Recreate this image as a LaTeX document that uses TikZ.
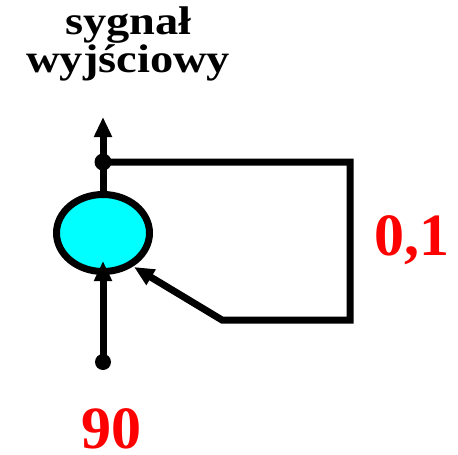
\documentclass[tikz,border=0pt]{standalone}
\usepackage{fontspec}
\setmainfont{Liberation Serif}
\usetikzlibrary{arrows.meta,shapes.geometric}
\definecolor{aqua}{RGB}{0,255,255}
\begin{document}
\begin{tikzpicture}[x=1pt,y=-1pt,
  wire/.style={line width=7pt},
  arr/.style={wire,-{Triangle[length=20pt,width=17pt]}},
  junction/.style={circle,fill=black,inner sep=0pt,minimum size=17pt},
  redlabel/.style={text=red,font=\fontsize{60}{60}\selectfont\bfseries,inner sep=0pt},
  titletext/.style={font=\fontsize{40}{35}\selectfont\bfseries,inner sep=0pt,align=center,anchor=base}]
\useasboundingbox (0,0) rectangle (458,455);
\node[titletext] (t) at (128.3,72) {\scalebox{1.16}[1]{sygnał}\\\scalebox{1.16}[1]{wyjściowy}};
\node[ellipse,draw,fill=aqua,line width=7pt,minimum width=93pt,minimum height=77pt,inner sep=0pt] (e) at (103,233) {};
\coordinate (out) at (103,117);
\node[junction] (dtop) at (103,162) {};
\coordinate (c1) at (350,162);
\coordinate (c2) at (350,320);
\coordinate (c3) at (222,320);
\coordinate (fb) at (134,267);
\node[junction,minimum size=16pt] (din) at (103,362) {};
\coordinate (intip) at (103,261);
\draw[arr] (e.north) -- (out);
\draw[arr] (dtop.center) -- (c1) -- (c2) -- (c3) -- (fb);
\draw[arr] (din.center) -- (intip);
\node[redlabel,anchor=base] (k) at (412,255) {0,1};
\node[redlabel,anchor=base] (u) at (111.5,448) {90};
\end{tikzpicture}
\end{document}
